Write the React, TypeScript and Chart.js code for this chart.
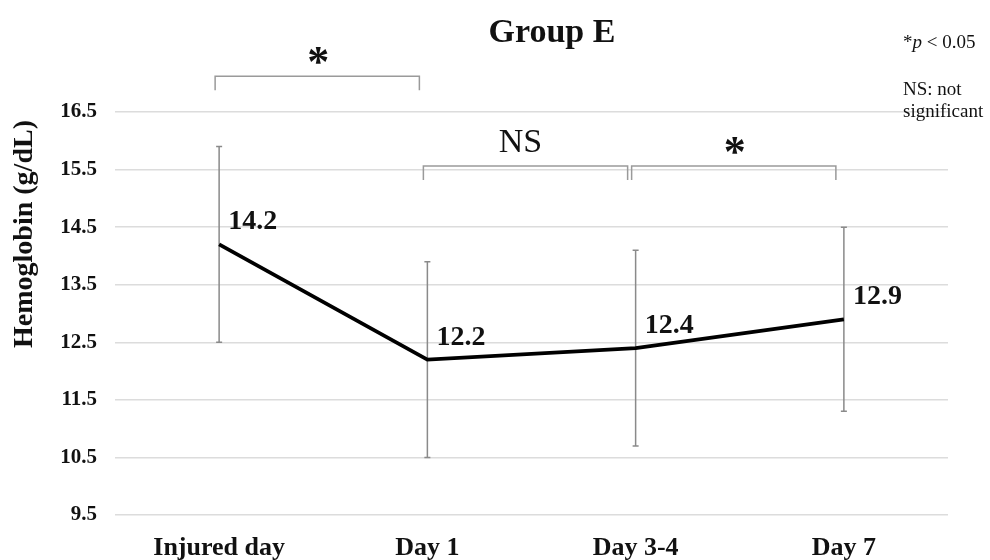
import React, { useEffect, useRef } from "react";
import { Chart, registerables } from "chart.js";

Chart.register(...registerables);

const categories = ["Injured day", "Day 1", "Day 3-4", "Day 7"];
const means = [14.2, 12.2, 12.4, 12.9];
const errLow = [12.5, 10.5, 10.7, 11.3];
const errHigh = [15.9, 13.9, 14.1, 14.5];
const yTicks = [9.5, 10.5, 11.5, 12.5, 13.5, 14.5, 15.5, 16.5];
const brackets = [
  { from: 0, to: 1, y: 17.12, label: "*" },
  { from: 1, to: 2, y: 15.56, label: "NS" },
  { from: 2, to: 3, y: 15.56, label: "*" },
];
const titleText = "Group E";
const yTitle = "Hemoglobin (g/dL)";
const notes = ["*p < 0.05", "NS: not", "significant"];

const SERIF = "'Liberation Serif', 'Times New Roman', serif";

const annotationPlugin = {
  id: "annot",
  beforeDatasetsDraw(chart: any) {
    const ctx = chart.ctx;
    const x = chart.scales.x;
    const y = chart.scales.y;
    ctx.save();
    ctx.strokeStyle = "#8a8a8a";
    ctx.lineWidth = 1.5;
    categories.forEach((_, i) => {
      const px = x.getPixelForValue(i);
      const top = y.getPixelForValue(errHigh[i]);
      const bot = y.getPixelForValue(errLow[i]);
      ctx.beginPath();
      ctx.moveTo(px, top);
      ctx.lineTo(px, bot);
      ctx.moveTo(px - 3, top);
      ctx.lineTo(px + 3, top);
      ctx.moveTo(px - 3, bot);
      ctx.lineTo(px + 3, bot);
      ctx.stroke();
    });
    ctx.restore();
  },
  afterDatasetsDraw(chart: any) {
    const ctx = chart.ctx;
    const x = chart.scales.x;
    const y = chart.scales.y;
    ctx.save();
    // data labels
    ctx.fillStyle = "#111";
    ctx.font = `bold 28px ${SERIF}`;
    ctx.textAlign = "left";
    ctx.textBaseline = "alphabetic";
    means.forEach((v, i) => {
      const px = x.getPixelForValue(i);
      const py = y.getPixelForValue(v);
      ctx.fillText(v.toFixed(1), px + 9, py - 15);
    });
    // brackets
    ctx.strokeStyle = "#9a9a9a";
    ctx.lineWidth = 1.5;
    brackets.forEach((b) => {
      const x1 = x.getPixelForValue(b.from) - 4;
      const x2 = x.getPixelForValue(b.to) - 8;
      const yy = y.getPixelForValue(b.y);
      ctx.beginPath();
      ctx.moveTo(x1, yy + 14);
      ctx.lineTo(x1, yy);
      ctx.lineTo(x2, yy);
      ctx.lineTo(x2, yy + 14);
      ctx.stroke();
      const cx = (x1 + x2) / 2;
      if (b.label === "*") {
        ctx.font = `bold 44px ${SERIF}`;
        ctx.textAlign = "center";
        ctx.textBaseline = "alphabetic";
        ctx.fillText("*", cx + 1, yy);
      } else {
        ctx.font = `34px ${SERIF}`;
        ctx.textAlign = "center";
        ctx.textBaseline = "alphabetic";
        ctx.fillText(b.label, cx - 5, yy - 14);
      }
    });
    // title
    ctx.font = `bold 34px ${SERIF}`;
    ctx.textAlign = "center";
    ctx.textBaseline = "alphabetic";
    ctx.fillText(titleText, 552, 42);
    // notes
    ctx.font = `19px ${SERIF}`;
    ctx.textAlign = "left";
    ctx.fillText("*", 903, 48);
    const sw = ctx.measureText("*").width;
    ctx.font = `italic 19px ${SERIF}`;
    ctx.fillText("p", 903 + sw, 48);
    const pw = ctx.measureText("p").width;
    ctx.font = `19px ${SERIF}`;
    ctx.fillText(" < 0.05", 903 + sw + pw, 48);
    ctx.fillText(notes[1], 903, 95);
    ctx.fillText(notes[2], 903, 117);
    // y title
    ctx.translate(25, 234);
    ctx.rotate(-Math.PI / 2);
    ctx.font = `bold 28px ${SERIF}`;
    ctx.textAlign = "center";
    ctx.textBaseline = "middle";
    ctx.fillText(yTitle, 0, 0);
    ctx.restore();
  },
};

export default function App() {
  const ref = useRef<HTMLCanvasElement | null>(null);
  useEffect(() => {
    document.body.style.margin = "0";
    if (!ref.current) return;
    const chart = new Chart(ref.current, {
      type: "line",
      data: {
        labels: categories,
        datasets: [
          {
            data: means,
            borderColor: "#000",
            borderWidth: 3.8,
            pointRadius: 0,
            fill: false,
            tension: 0,
          },
        ],
      },
      options: {
        animation: false,
        responsive: true,
        maintainAspectRatio: false,
        layout: { padding: { top: 112, right: 42, bottom: 0, left: 0 } },
        plugins: {
          legend: { display: false },
          tooltip: { enabled: false },
          title: { display: false },
        },
        scales: {
          x: {
            offset: true,
            grid: { display: false, drawTicks: false },
            border: { display: false },
            ticks: {
              color: "#111",
              font: { family: SERIF, size: 26, weight: "bold" },
              padding: 18,
              maxRotation: 0,
            },
            afterFit: (s: any) => {
              s.height = 45;
            },
          },
          y: {
            min: 9.5,
            max: 16.5,
            grid: { color: "#dcdcdc", lineWidth: 1.5, drawTicks: false },
            border: { display: false },
            ticks: {
              color: "#111",
              font: { family: SERIF, size: 21, weight: "bold" },
              padding: 18,
              callback: (v: any) => Number(v).toFixed(1),
            },
            afterBuildTicks: (s: any) => {
              s.ticks = yTicks.map((v) => ({ value: v }));
            },
            afterFit: (s: any) => {
              s.width = 115;
            },
          },
        },
      },
      plugins: [annotationPlugin],
    });
    return () => chart.destroy();
  }, []);
  return (
    <div style={{ width: 990, height: 560, position: "relative", background: "#fff" }}>
      <canvas ref={ref} />
    </div>
  );
}
